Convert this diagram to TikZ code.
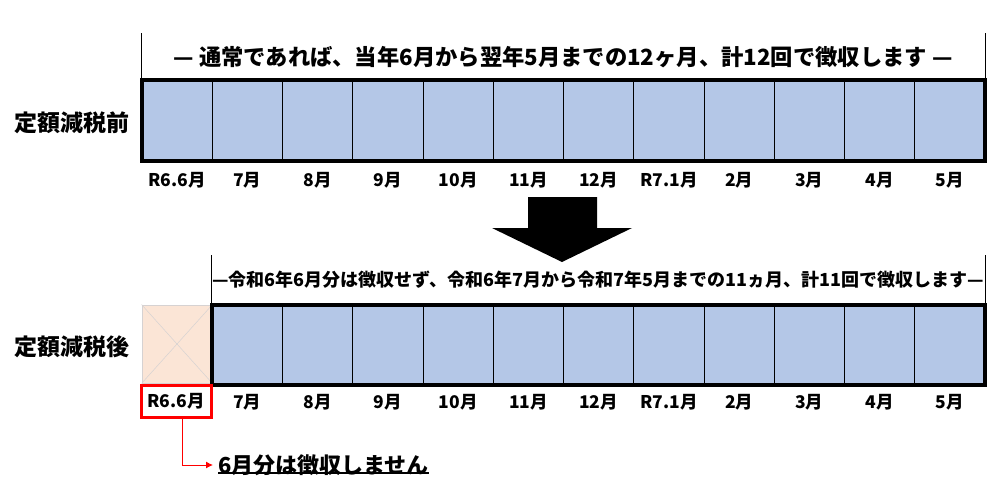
\documentclass[tikz,border=0pt]{standalone}
\usepackage{fontspec}
\newfontfamily\jpfont{Noto Sans CJK JP}
\usetikzlibrary{arrows.meta,positioning}
\definecolor{cellblue}{HTML}{B4C7E7}
\definecolor{cellpeach}{HTML}{FBE5D6}
\definecolor{fadegray}{HTML}{D6D2D2}

\begin{document}
\begin{tikzpicture}[x=1pt,y=-1pt,>=Latex,
  cell/.style={draw=black,line width=0.8pt,fill=cellblue,minimum width=70.25pt,minimum height=80pt,inner sep=0pt},
  fadecell/.style={draw=fadegray,line width=0.8pt,fill=cellpeach,minimum width=70pt,minimum height=78pt,inner sep=0pt},
  mlabel/.style={font=\jpfont\bfseries\fontsize{17.5}{17.5}\selectfont,inner sep=0pt},
  rowlabel/.style={font=\jpfont\bfseries\fontsize{23}{23}\selectfont,inner sep=0pt},
  headtext/.style={font=\jpfont\bfseries\fontsize{#1}{#1}\selectfont,inner sep=0pt}]
\useasboundingbox (0,0) rectangle (1000,482);

% before
\node[rowlabel] (before) at (72,123) {定額減税前};
\node[cell] (c1) at (177.1,120.5) {};
\node[cell] (c2) at (247.4,120.5) {};
\node[cell] (c3) at (317.6,120.5) {};
\node[cell] (c4) at (387.9,120.5) {};
\node[cell] (c5) at (458.1,120.5) {};
\node[cell] (c6) at (528.4,120.5) {};
\node[cell] (c7) at (598.6,120.5) {};
\node[cell] (c8) at (668.9,120.5) {};
\node[cell] (c9) at (739.1,120.5) {};
\node[cell] (c10) at (809.4,120.5) {};
\node[cell] (c11) at (879.6,120.5) {};
\node[cell] (c12) at (949.9,120.5) {};
\draw[line width=4pt] (c1.north west) rectangle (c12.south east);
\draw[line width=0.8pt] (c1.north west) -- ++(0,-47);
\draw[line width=0.8pt] (c12.north east) -- ++(0,-47);
\node[headtext=22.3] (tophead) at (563,57) {— 通常であれば、当年6月から翌年5月までの12ヶ月、計12回で徴収します —};
\node[mlabel] (l1) at (177.1,180) {R6.6月};
\node[mlabel] (l2) at (247.4,180) {7月};
\node[mlabel] (l3) at (317.6,180) {8月};
\node[mlabel] (l4) at (387.9,180) {9月};
\node[mlabel] (l5) at (458.1,180) {10月};
\node[mlabel] (l6) at (528.4,180) {11月};
\node[mlabel] (l7) at (598.6,180) {12月};
\node[mlabel] (l8) at (668.9,180) {R7.1月};
\node[mlabel] (l9) at (739.1,180) {2月};
\node[mlabel] (l10) at (809.4,180) {3月};
\node[mlabel] (l11) at (879.6,180) {4月};
\node[mlabel] (l12) at (949.9,180) {5月};

% big arrow
\fill (528,197) -- (597,197) -- (597,228) -- (632,228) -- (562,262) -- (492,228) -- (528,228) -- cycle;

% after
\node[rowlabel] (after) at (72,347) {定額減税後};
\node[fadecell] (f1) at (177,344) {};
\draw[fadegray,line width=0.5pt] (f1.north west) -- (f1.south east);
\draw[fadegray,line width=0.5pt] (f1.south west) -- (f1.north east);
\node[cell] (d2) at (247.4,345) {};
\node[cell] (d3) at (317.6,345) {};
\node[cell] (d4) at (387.9,345) {};
\node[cell] (d5) at (458.1,345) {};
\node[cell] (d6) at (528.4,345) {};
\node[cell] (d7) at (598.6,345) {};
\node[cell] (d8) at (668.9,345) {};
\node[cell] (d9) at (739.1,345) {};
\node[cell] (d10) at (809.4,345) {};
\node[cell] (d11) at (879.6,345) {};
\node[cell] (d12) at (949.9,345) {};
\draw[line width=4pt] (d2.north west) rectangle (d12.south east);
\draw[line width=0.8pt] (d2.north west) -- ++(0,-50);
\draw[line width=0.8pt] (d12.north east) -- ++(0,-50);
\node[headtext=18] (bothead) at (598,280) {—令和6年6月分は徴収せず、令和6年7月から令和7年5月までの11ヵ月、計11回で徴収します—};
\node[mlabel,draw=red,line width=3pt,minimum width=70pt,minimum height=32pt] (m1) at (176,401) {R6.6月};
\node[mlabel] (m2) at (247.4,402) {7月};
\node[mlabel] (m3) at (317.6,402) {8月};
\node[mlabel] (m4) at (387.9,402) {9月};
\node[mlabel] (m5) at (458.1,402) {10月};
\node[mlabel] (m6) at (528.4,402) {11月};
\node[mlabel] (m7) at (598.6,402) {12月};
\node[mlabel] (m8) at (668.9,402) {R7.1月};
\node[mlabel] (m9) at (739.1,402) {2月};
\node[mlabel] (m10) at (809.4,402) {3月};
\node[mlabel] (m11) at (879.6,402) {4月};
\node[mlabel] (m12) at (949.9,402) {5月};

% note
\node[rowlabel,font=\jpfont\bfseries\fontsize{22}{22}\selectfont,anchor=west] (note) at (218,465) {6月分は徴収しません};
\draw[line width=1.5pt] ([yshift=3pt]note.south west) -- ([yshift=3pt]note.south east);
\draw[red,line width=1pt,-{Latex[length=7pt,width=7pt]}] ([xshift=6pt]m1.south) |- ([xshift=-5pt]note.west);
\end{tikzpicture}
\end{document}
